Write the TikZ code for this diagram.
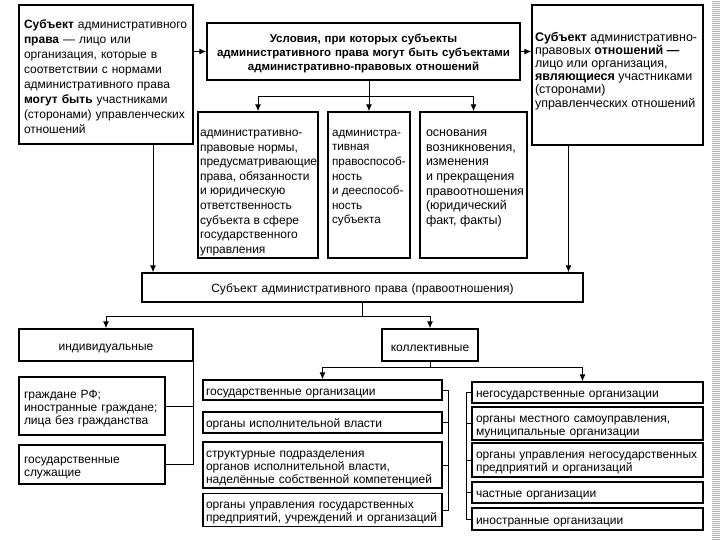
\documentclass[tikz,border=0pt]{standalone}
\usepackage{fontspec}
\setmainfont{Liberation Sans}
\usetikzlibrary{arrows.meta}
\newcommand{\topbox}[4][15pt]{\parbox[c][#3][t]{#2}{\vspace*{#1}\raggedright #4}}
\tikzset{
  box/.style={draw, line width=1.4pt, inner xsep=3pt, inner ysep=2pt, font=\fontsize{12}{13}\selectfont},
  lbox/.style 2 args={box, align=left, text width=#1, text height=13pt, minimum height=#2},
  cbox/.style 2 args={box, align=center, text width=#1, text height=13pt, minimum height=#2},
  midbox/.style={box, inner ysep=3pt, font=\fontsize{12}{14.6}\selectfont},
  ln/.style={line width=1pt},
  arr/.style={ln, -{Latex[length=7pt,width=6pt]}}
}
\begin{document}
\begin{tikzpicture}[x=1pt, y=-1pt]
\useasboundingbox (0,0) rectangle (720,540);
%Top row: definitions and conditions
\node[lbox={164pt}{139pt}, inner xsep=5pt, font=\fontsize{12}{15}\selectfont] (subjlaw) at (106,74.5)
  {\textbf{Субъект} административного\\ \textbf{права} — лицо или\\ организация, которые в\\ соответствии с нормами\\ административного права\\ \textbf{могут быть} участниками\\ (сторонами) управленческих\\ отношений};
\node[cbox={307pt}{57pt}, font=\bfseries\fontsize{11.5}{14}\selectfont] (cond) at (363.5,51.5)
  {Условия, при которых субъекты\\ административного права могут быть субъектами\\ административно-правовых отношений};
\node[midbox, inner xsep=3pt, font=\fontsize{12.5}{13.2}\selectfont] (subjrel) at (617.5,75)
  {\topbox[24pt]{165pt}{134pt}{\textbf{Субъект} административно-\\ правовых \textbf{отношений —}\\ лицо или организация,\\ \textbf{являющиеся} участниками\\ (сторонами)\\ управленческих отношений}};
%Three conditions
\node[midbox, inner xsep=2pt] (norms) at (258,185)
  {\topbox{116pt}{140pt}{административно-\\ правовые нормы,\\ предусматривающие\\ права, обязанности\\ и юридическую\\ ответственность\\ субъекта в сфере\\ государственного\\ управления}};
\node[midbox, inner xsep=4pt, font=\fontsize{11.7}{14.6}\selectfont] (capac) at (369,185)
  {\topbox{74pt}{140pt}{администра-\\ тивная\\ правоспособ-\\ ность\\ и дееспособ-\\ ность\\ субъекта}};
\node[midbox, inner xsep=6pt, font=\fontsize{12.5}{14.6}\selectfont] (grounds) at (473.5,185)
  {\topbox{95pt}{140pt}{основания\\ возникновения,\\ изменения\\ и прекращения\\ правоотношения\\ (юридический\\ факт, факты)}};
%Subject and its kinds
\node[cbox={435pt}{29pt}] (subj) at (362.5,287.5) {Субъект административного права (правоотношения)};
\node[cbox={168pt}{32pt}] (indiv) at (106,345) {индивидуальные};
\node[cbox={90pt}{32pt}] (coll) at (430,345) {коллективные};
\node[lbox={136pt}{58pt}, inner xsep=5pt] (citiz) at (92,406) {граждане РФ;\\ иностранные граждане;\\ лица без гражданства};
\node[lbox={136pt}{39pt}, inner xsep=5pt] (servants) at (92,464.5) {государственные\\ служащие};
%State organizations
\node[lbox={233pt}{20pt}] (st1) at (322.5,390) {государственные организации};
\node[lbox={233pt}{21pt}] (st2) at (322.5,422.5) {органы исполнительной власти};
\node[lbox={233pt}{46pt}] (st3) at (322.5,465) {структурные подразделения\\ органов исполнительной власти,\\ наделённые собственной компетенцией};
\node[lbox={233pt}{30pt}] (st4) at (322.5,510) {органы управления государственных\\ предприятий, учреждений и организаций};
%Non-state organizations
\node[lbox={223pt}{21pt}, inner xsep=4pt] (ns1) at (587.5,392.5) {негосударственные организации};
\node[lbox={223pt}{33pt}, inner xsep=4pt] (ns2) at (587.5,423.5) {органы местного самоуправления,\\ муниципальные организации};
\node[lbox={223pt}{34pt}, inner xsep=4pt] (ns3) at (587.5,460) {органы управления негосударственных\\ предприятий и организаций};
\node[lbox={223pt}{21pt}, inner xsep=4pt] (ns4) at (587.5,492.5) {частные организации};
\node[lbox={223pt}{22pt}, inner xsep=4pt] (ns5) at (587.5,519) {иностранные организации};
%Branch levels
\coordinate (br1) at (0,97);
\coordinate (br2) at (0,316);
\coordinate (br3) at (0,367);
\coordinate (stb) at (448,0);
\coordinate (nsb) at (466,0);
%Connectors
\draw[arr] (subjlaw.east |- cond.west) -- (cond.west);
\draw[arr] (cond.east) -- (cond.east -| subjrel.west);
\draw[arr] (capac.north |- cond.south) -- (capac.north);
\draw[ln] (norms.north |- br1) -- (grounds.north |- br1);
\foreach \n in {norms,grounds}
  \draw[arr] (\n.north |- br1) -- (\n.north);
\draw[arr] ([xshift=47pt]subjlaw.south) -- ([xshift=47pt]subjlaw.south |- subj.north);
\draw[arr] ([xshift=-49pt]subjrel.south) -- ([xshift=-49pt]subjrel.south |- subj.north);
\draw[arr] (subj.south) -- (subj.south |- br2) -| (indiv.north);
\draw[arr] (subj.south |- br2) -| (coll.north);
\draw[arr] (coll.south) -- (coll.south |- br3) -| (st1.north);
\draw[arr] (coll.south |- br3) -| ([xshift=-5pt]ns1.north);
%Brackets
\draw[ln] (indiv.south east) |- (servants.east);
\draw[ln] (citiz.east) -- (citiz.east -| indiv.south east);
\draw[ln] (st1.east) -| (stb |- st4.east) -- (st4.east);
\foreach \n in {st2,st3}
  \draw[ln] (\n.east) -- (\n.east -| stb);
\draw[ln] (ns1.west) -| (nsb |- ns5.west) -- (ns5.west);
\foreach \n in {ns2,ns3,ns4}
  \draw[ln] (\n.west) -- (\n.west -| nsb);
%Edge strip
\foreach \y in {1,3,...,539}
  \draw[gray!60, line width=0.9pt] (712,\y) -- (720,\y);
\end{tikzpicture}
\end{document}
